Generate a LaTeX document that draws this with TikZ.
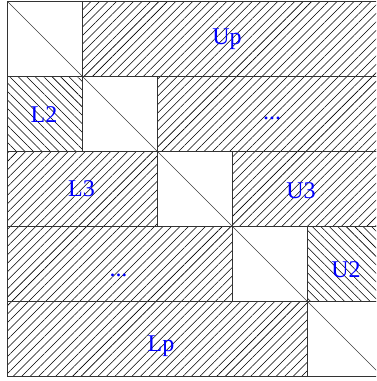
\documentclass[tikz,border=0pt]{standalone}
\usepackage{fontspec}
\setmainfont{Liberation Serif}
\usetikzlibrary{patterns.meta}
\tikzset{
  blk/.style   = {draw=black!80, line width=1.2pt},
  hne/.style   = {blk, pattern={Lines[angle=45,distance=6pt,line width=0.55pt]}},
  hnw/.style   = {blk, pattern={Lines[angle=-45,distance=6pt,line width=0.55pt]}},
  diag/.style  = {draw=black!75, line width=0.7pt},
  lbl/.style   = {text=blue, font=\fontsize{24}{28}\selectfont, inner sep=0pt, anchor=base},
}
\begin{document}
\begin{tikzpicture}[x=1pt,y=-1pt]
  \useasboundingbox (0,0) rectangle (376,381);
  \clip (0,0) rectangle (376,381);
  \begin{scope}[shift={(7.5,1.5)},x=75pt,y=-75pt]
    % hatched blocks
    \foreach \xa/\ya/\xb/\yb/\st in {1/0/5/1/hne, 0/1/1/2/hnw, 2/1/5/2/hne,
                                     0/2/2/3/hne, 3/2/5/3/hne, 0/3/3/4/hne,
                                     4/3/5/4/hnw, 0/4/4/5/hne}
      {\path[\st] (\xa,\ya) rectangle (\xb,\yb);}
    % diagonal blocks
    \foreach \i in {0,...,4}
    {
      \draw[blk] (\i,\i) rectangle (\i+1,\i+1);
      \draw[diag] (\i,\i) -- (\i+1,\i+1);
    }
  \end{scope}
  % labels
  \node[lbl] (up) at (227,44) {Up};
  \node[lbl] (l2) at (44,122.5) {L2};
  \node[lbl] (d1) at (272,119) {...};
  \node[lbl] (l3) at (81.5,196.5) {L3};
  \node[lbl] (u3) at (301,198) {U3};
  \node[lbl] (d2) at (118.5,276.5) {...};
  \node[lbl] (u2) at (346,277) {U2};
  \node[lbl] (lp) at (161,351.5) {Lp};
\end{tikzpicture}
\end{document}
